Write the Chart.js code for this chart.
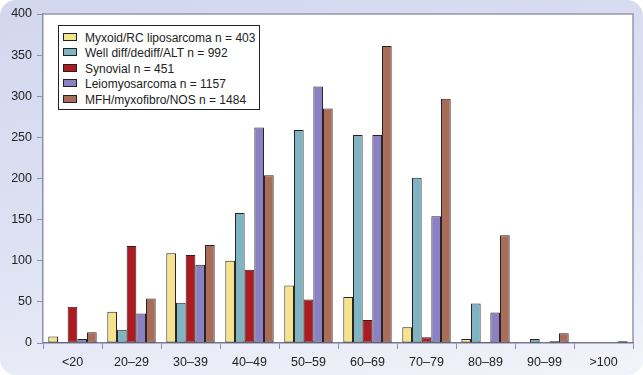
<!DOCTYPE html>
<html>
<head>
<meta charset="utf-8">
<script src="https://cdn.jsdelivr.net/npm/chart.js@4"></script>
<style>
  html, body { margin: 0; padding: 0; background: #fff; }
  .panel {
    position: relative;
    width: 643px;
    height: 375px;
    border-radius: 16px;
    background: linear-gradient(170deg, #d3d7ee 0%, #dfe2f3 55%, #f2f3fa 100%);
    overflow: hidden;
  }
  canvas { position: absolute; left: 0; top: 0; }
  .legend {
    position: absolute;
    left: 58px;
    top: 25px;
    width: 202px;
    height: 85px;
    border: 1px solid #222;
    background: #fff;
    font-family: "Liberation Sans", Arial, sans-serif;
    font-size: 12px;
    color: #222;
    padding: 5px 0 0 4px;
    box-sizing: border-box;
  }
  .legend div { height: 15.4px; line-height: 15.4px; white-space: nowrap; }
  .legend span.box {
    display: inline-block;
    width: 12px;
    height: 6px;
    border: 1px solid #222;
    margin-right: 8px;
    vertical-align: 1px;
  }
</style>
</head>
<body>
<div class="panel">
  <canvas id="chart" width="643" height="375"></canvas>
  <div class="legend" id="legend"></div>
</div>
<script>
const ageGroups = ["<20", "20–29", "30–39", "40–49", "50–59", "60–69", "70–79", "80–89", "90–99", ">100"];

const myxoid = [8, 38, 109, 100, 70, 56, 19, 5, 0, 0];
const wellDiff = [1, 16, 49, 158, 259, 253, 201, 48, 5, 0];
const synovial = [44, 118, 107, 89, 53, 28, 7, 1, 0, 0];
const leiomyosarcoma = [5, 36, 95, 262, 312, 253, 154, 37, 2, 0];
const mfh = [13, 54, 119, 204, 285, 361, 297, 131, 12, 2];

const seriesNames = [
  "Myxoid/RC liposarcoma n = 403",
  "Well diff/dediff/ALT n = 992",
  "Synovial n = 451",
  "Leiomyosarcoma n = 1157",
  "MFH/myxofibro/NOS n = 1484"
];
const seriesColors = ["#f6e38e", "#7fb4c3", "#ad1a22", "#8981c4", "#a86d58"];
const yTicks = [0, 50, 100, 150, 200, 250, 300, 350, 400];

const seriesData = [myxoid, wellDiff, synovial, leiomyosarcoma, mfh];

const plotBox = {
  id: "plotBox",
  beforeDraw(chart) {
    const { ctx, chartArea: a } = chart;
    ctx.save();
    ctx.fillStyle = "#fff";
    ctx.fillRect(a.left, a.top, a.right - a.left, a.bottom - a.top);
    ctx.strokeStyle = "#9597b3";
    ctx.lineWidth = 1.5;
    ctx.beginPath();
    ctx.moveTo(a.left, a.top);
    ctx.lineTo(a.right, a.top);
    ctx.lineTo(a.right, a.bottom);
    ctx.stroke();
    ctx.restore();
  }
};

new Chart(document.getElementById("chart"), {
  type: "bar",
  data: {
    labels: ageGroups,
    datasets: seriesData.map((d, i) => ({
      label: seriesNames[i],
      data: d.map(v => (v === 0 ? null : v)),
      backgroundColor: seriesColors[i],
      borderColor: "#2b2222",
      borderWidth: 1,
      borderSkipped: false,
      minBarLength: 1,
      categoryPercentage: 0.82,
      barPercentage: 1.0
    }))
  },
  options: {
    responsive: false,
    animation: false,
    layout: { padding: { top: 14, right: 10 } },
    plugins: { legend: { display: false }, tooltip: { enabled: false } },
    scales: {
      x: {
        afterFit(scale) { scale.height = 32; },
        grid: { drawOnChartArea: false, drawTicks: true, tickLength: 6, color: "#8d90ab" },
        border: { color: "#777a94", width: 1.5 },
        ticks: {
          color: "#222",
          padding: 6,
          font: { family: "'Liberation Sans', Arial, sans-serif", size: 12.5 }
        }
      },
      y: {
        min: 0,
        max: 400,
        afterFit(scale) { scale.width = 43; },
        afterBuildTicks(scale) { scale.ticks = yTicks.map(v => ({ value: v })); },
        grid: { drawOnChartArea: false, drawTicks: true, tickLength: 6, color: "#8d90ab" },
        border: { color: "#8d90ab", width: 1.5 },
        ticks: {
          color: "#222",
          padding: 5,
          font: { family: "'Liberation Sans', Arial, sans-serif", size: 12.5 }
        }
      }
    }
  },
  plugins: [plotBox]
});

const legend = document.getElementById("legend");
seriesNames.forEach((name, i) => {
  const row = document.createElement("div");
  const box = document.createElement("span");
  box.className = "box";
  box.style.background = seriesColors[i];
  row.appendChild(box);
  row.appendChild(document.createTextNode(name));
  legend.appendChild(row);
});
</script>
</body>
</html>
